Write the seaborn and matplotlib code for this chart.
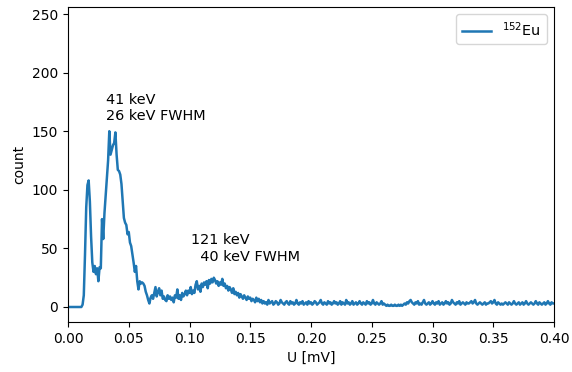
import numpy as np
import pandas as pd
import matplotlib
matplotlib.use("Agg")
import matplotlib.pyplot as plt
import seaborn as sns

step = 0.001  # bin width in mV

head_counts = [
    0, 0, 0, 0, 0, 0, 0, 0, 0, 0, 0, 0,
    2, 10, 45, 85, 104, 108, 90, 60, 38, 30, 35, 28, 33, 22, 34, 33,
    75, 58, 80, 95, 110, 125, 150, 130, 134, 138, 140, 149,
    130, 117, 116, 113, 105, 90, 76, 72, 70, 62, 64, 55, 52, 45, 38, 30,
    35, 22, 15, 22, 20, 21, 20, 18, 13, 10, 6, 3, 8, 10, 7, 12, 17, 9,
    13, 16, 10, 14, 7, 9, 6, 5, 10, 7, 9, 6, 8, 4, 10, 8, 15, 7, 10, 6,
    12, 9, 11, 14, 10, 14, 12, 17, 11, 14, 12, 19, 22, 15, 18, 13, 20,
    17, 21, 19, 22, 16, 23, 20, 24, 21, 25, 23, 20, 22, 18, 21, 19, 24,
    18, 20, 16, 18, 14, 17, 15, 12, 16, 11, 13, 10, 12, 8, 11, 9, 7, 10,
    8, 6, 9, 7, 8, 5, 7, 6, 4, 8, 5, 7, 4, 6, 3,
]

tail_counts = [
    5, 3, 4, 2, 6, 3, 4, 5, 2, 3, 5, 4, 2, 3, 6, 4, 3, 2, 4, 5,
    3, 2, 5, 3, 4, 2, 3, 6, 3, 2, 4, 3, 5, 2, 3, 4, 2, 5, 3, 4,
    2, 3, 5, 4, 2, 3, 4, 6, 3, 2, 4, 3, 2, 5, 3, 4, 2, 3, 5, 3,
    4, 2, 3, 5, 2, 4, 3, 2, 6, 3, 4, 2, 3, 5, 2, 3, 4, 2, 3, 5,
    3, 2, 4, 3, 2, 5, 3, 4, 2, 3, 6, 3, 2, 4, 3, 2, 3, 5, 2, 3,
    2, 1, 2, 1, 1, 2, 1, 1, 2, 1, 1, 2, 1, 2, 1, 2, 3, 2, 4, 3,
    5, 6, 4, 3, 2, 4, 3, 5, 2, 3, 2, 4, 6, 3, 2, 3, 4, 2, 3, 5,
    3, 2, 4, 3, 5, 2, 3, 4, 2, 3, 5, 3, 4, 2, 3, 6, 4, 3, 2, 4,
    3, 5, 2, 3, 4, 3, 2, 4, 3, 3, 4, 5, 3, 4, 6, 3, 2, 3, 4, 3,
    2, 3, 4, 2, 3, 3, 4, 5, 3, 4, 6, 3, 2, 4, 3, 2, 3, 2, 3, 4,
    3, 2, 4, 3, 2, 3, 5, 3, 2, 3, 4, 2, 3, 4, 2, 3, 5, 3, 2, 3,
    4, 3, 2, 3, 5, 3, 2, 4, 3, 2, 3, 4, 2, 3, 5, 3, 2, 4, 3, 3,
]

counts = head_counts + tail_counts
voltage = [round(i * step, 4) for i in range(len(counts))]

series_label = r"$^{152}$Eu"
peak_labels = ["41 keV\n26 keV FWHM", "121 keV\n  40 keV FWHM"]
peak_label_pos = [(0.031, 157), (0.101, 37)]

xticks = [0.00, 0.05, 0.10, 0.15, 0.20, 0.25, 0.30, 0.35, 0.40]
yticks = [0, 50, 100, 150, 200, 250]

df = pd.DataFrame({"U": voltage, "count": counts})

fig = plt.figure(figsize=(5.72, 3.72), dpi=100)
ax = fig.add_axes([68 / 572, 1 - 322 / 372, (554 - 68) / 572, (322 - 7) / 372])

sns.lineplot(data=df, x="U", y="count", ax=ax, color="#1f77b4",
             linewidth=1.8, label=series_label)

for txt, (tx, ty) in zip(peak_labels, peak_label_pos):
    ax.text(tx, ty, txt, fontsize=10.4, ha="left", va="bottom")

ax.set_xlim(0.0, 0.40)
ax.set_ylim(-12.8, 256)
ax.set_xticks(xticks)
ax.set_xticklabels([f"{t:.2f}" for t in xticks])
ax.set_yticks(yticks)
ax.set_xlabel("U [mV]")
ax.set_ylabel("count")
ax.legend(loc="upper right", fontsize=10.4)

fig.savefig("out.png", dpi=100)
